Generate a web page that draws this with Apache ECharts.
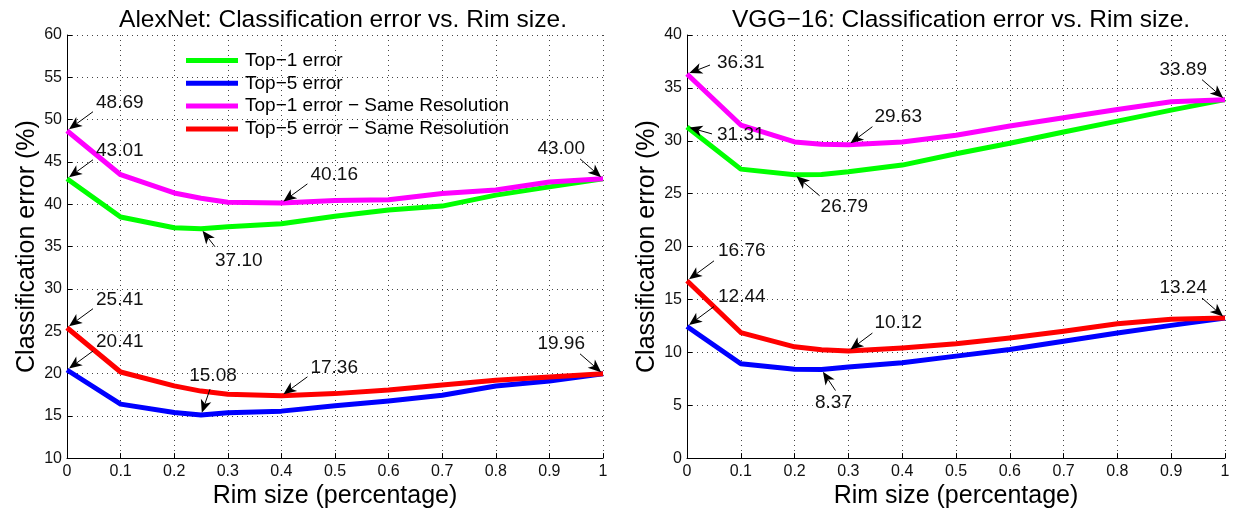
<!DOCTYPE html>
<html>
<head>
<meta charset="utf-8">
<script src="https://cdn.jsdelivr.net/npm/echarts@6/dist/echarts.min.js"></script>
<style>
  html, body { margin: 0; padding: 0; background: #fff; }
  #chart { width: 1238px; height: 514px; }
</style>
</head>
<body>
<div id="chart"></div>
<script>
// ---- data ----
const rimSizes = [0, 0.1, 0.2, 0.25, 0.3, 0.4, 0.5, 0.6, 0.7, 0.8, 0.9, 1];
const seriesNames = ['Top\u22121 error', 'Top\u22125 error',
  'Top\u22121 error \u2212 Same Resolution', 'Top\u22125 error \u2212 Same Resolution'];
const chartTitles = ['AlexNet: Classification error vs. Rim size.',
  'VGG\u221216: Classification error vs. Rim size.'];
const xAxisTitle = 'Rim size (percentage)';
const yAxisTitle = 'Classification error (%)';

// AlexNet
const alexTop1     = [43.01, 38.49, 37.23, 37.10, 37.33, 37.70, 38.58, 39.32, 39.78, 41.08, 42.05, 43.00];
const alexTop5     = [20.41, 16.38, 15.38, 15.08, 15.35, 15.55, 16.18, 16.75, 17.42, 18.52, 19.10, 19.96];
const alexTop1Same = [48.69, 43.49, 41.33, 40.71, 40.24, 40.16, 40.44, 40.52, 41.26, 41.68, 42.62, 43.00];
const alexTop5Same = [25.41, 20.17, 18.53, 17.92, 17.55, 17.36, 17.62, 18.05, 18.63, 19.20, 19.58, 19.96];

// VGG-16
const vggTop1      = [31.31, 27.32, 26.79, 26.82, 27.07, 27.70, 28.78, 29.77, 30.83, 31.86, 32.90, 33.89];
const vggTop5      = [12.44, 8.92, 8.40, 8.37, 8.61, 9.01, 9.64, 10.27, 11.05, 11.83, 12.55, 13.24];
const vggTop1Same  = [36.31, 31.49, 29.89, 29.67, 29.63, 29.89, 30.52, 31.39, 32.18, 32.96, 33.68, 33.89];
const vggTop5Same  = [16.76, 11.87, 10.52, 10.25, 10.12, 10.42, 10.82, 11.36, 11.99, 12.70, 13.12, 13.24];

// y-axis ranges: [min, max, step]
const alexYRange = [10, 60, 5];
const vggYRange  = [0, 40, 5];

// ---- callout layout: tail / text offsets in pixels from the marked point ----
const placements = {
  upRight:     { tail: [26, -19], text: [29, -28], align: 'left' },
  upRightWide: { tail: [27, -20], text: [31, -30], align: 'left' },
  upRightMin:  { tail: [24, -18], text: [26, -28], align: 'left' },
  upLeft:      { tail: [-23, -20], text: [-18, -30], align: 'right' },
  downRight:   { tail: [14, 18], text: [14, 32], align: 'left' },
  up:          { tail: [9, -26], text: [12, -39], align: 'center' },
  right:       { tail: [23, -9], text: [30, -11], align: 'left' },
  rightDown:   { tail: [25, 7], text: [30, 8], align: 'left' },
  downRight2:  { tail: [25, 21], text: [26, 32], align: 'left' },
  down:        { tail: [14, 21], text: [12, 33], align: 'center' }
};

const alexCallouts = [
  { values: alexTop1Same, at: 0, place: 'upRight' },
  { values: alexTop1, at: 0, place: 'upRight' },
  { values: alexTop1, at: 3, place: 'downRight' },
  { values: alexTop1Same, at: 5, place: 'upRight' },
  { values: alexTop1Same, at: 11, place: 'upLeft' },
  { values: alexTop5Same, at: 0, place: 'upRight' },
  { values: alexTop5, at: 0, place: 'upRight' },
  { values: alexTop5, at: 3, place: 'up' },
  { values: alexTop5Same, at: 5, place: 'upRight' },
  { values: alexTop5Same, at: 11, place: 'upLeft' }
];
const vggCallouts = [
  { values: vggTop1Same, at: 0, place: 'right' },
  { values: vggTop1, at: 0, place: 'rightDown' },
  { values: vggTop1, at: 2, place: 'downRight2' },
  { values: vggTop1Same, at: 4, place: 'upRightMin' },
  { values: vggTop1Same, at: 11, place: 'upLeft' },
  { values: vggTop5Same, at: 0, place: 'upRightWide' },
  { values: vggTop5, at: 0, place: 'upRightWide' },
  { values: vggTop5, at: 3, place: 'down' },
  { values: vggTop5Same, at: 4, place: 'upRightMin' },
  { values: vggTop5Same, at: 11, place: 'upLeft' }
];

// ---- styling ----
const FONT = '"Liberation Sans", Arial, Helvetica, sans-serif';
const lineColors = ['#00ff00', '#0000ff', '#ff00ff', '#ff0000'];
const grids = [
  { left: 67, top: 35, width: 536, height: 426 },
  { left: 687, top: 35, width: 538, height: 426 }
];

function pairs(values) {
  return values.map((v, i) => [rimSizes[i], v]);
}

function makeXAxis(gi) {
  return {
    type: 'value', gridIndex: gi, min: 0, max: 1, interval: 0.1,
    name: xAxisTitle, nameLocation: 'middle', nameGap: 20,
    nameTextStyle: { fontFamily: FONT, fontSize: 25, color: '#000' },
    axisLine: { show: true, onZero: false, lineStyle: { color: '#000', width: 1 } },
    axisTick: { show: true, inside: true, length: 5, lineStyle: { color: '#000' } },
    axisLabel: {
      margin: 5, fontFamily: FONT, fontSize: 16, color: '#111',
      formatter: v => String(Math.round(v * 10) / 10)
    },
    splitLine: { show: true, lineStyle: { color: '#444', width: 1, type: [1, 4] } }
  };
}

function makeYAxis(gi, range) {
  return {
    type: 'value', gridIndex: gi, min: range[0], max: range[1], interval: range[2],
    name: yAxisTitle, nameLocation: 'middle', nameGap: 27,
    nameTextStyle: { fontFamily: FONT, fontSize: 25, color: '#000' },
    axisLine: { show: true, onZero: false, lineStyle: { color: '#000', width: 1 } },
    axisTick: { show: true, inside: true, length: 5, lineStyle: { color: '#000' } },
    axisLabel: { margin: 5, fontFamily: FONT, fontSize: 16, color: '#111' },
    splitLine: { show: true, lineStyle: { color: '#444', width: 1, type: [1, 4] } }
  };
}

function lineSeries(name, values, gi, color) {
  return {
    name, type: 'line', xAxisIndex: gi, yAxisIndex: gi,
    data: pairs(values), showSymbol: false, symbol: 'none',
    lineStyle: { color, width: 5, join: 'round' }, itemStyle: { color },
    animation: false, z: 3
  };
}

// arrow + value text drawn at each callout point through the axis scale
function calloutSeries(callouts, gi) {
  return {
    type: 'custom', xAxisIndex: gi, yAxisIndex: gi, silent: true, z: 10,
    animation: false, clip: false,
    data: callouts.map(c => [rimSizes[c.at], c.values[c.at]]),
    renderItem: function (params, api) {
      const c = callouts[params.dataIndex];
      const pl = placements[c.place];
      const p = api.coord([api.value(0), api.value(1)]);
      const tx = p[0] + pl.tail[0], ty = p[1] + pl.tail[1];
      let dx = p[0] - tx, dy = p[1] - ty;
      const len = Math.sqrt(dx * dx + dy * dy);
      dx /= len; dy /= len;
      const tipX = p[0] - dx * 2.5, tipY = p[1] - dy * 2.5;
      const headL = 13, headW = 5.5, notch = 3.5;
      const bx = tipX - dx * headL, by = tipY - dy * headL;
      const nx = -dy, ny = dx;
      const mx = tipX - dx * (headL - notch), my = tipY - dy * (headL - notch);
      return {
        type: 'group',
        children: [
          { type: 'line', shape: { x1: tx, y1: ty, x2: mx, y2: my },
            style: { stroke: '#000', lineWidth: 1 } },
          { type: 'polygon', shape: { points: [[tipX, tipY], [bx + nx * headW, by + ny * headW],
              [mx, my], [bx - nx * headW, by - ny * headW]] },
            style: { fill: '#000' } },
          { type: 'text', style: {
              text: c.values[c.at].toFixed(2),
              x: p[0] + pl.text[0], y: p[1] + pl.text[1],
              align: pl.align, verticalAlign: 'middle',
              fontFamily: FONT, fontSize: 19, fill: '#111'
            } }
        ]
      };
    }
  };
}

const option = {
  backgroundColor: '#fff',
  animation: false,
  title: [
    { text: chartTitles[0], left: 338, top: 3, textAlign: 'center',
      textStyle: { fontFamily: FONT, fontSize: 24.5, fontWeight: 'normal', color: '#000' } },
    { text: chartTitles[1], left: 956, top: 3, textAlign: 'center',
      textStyle: { fontFamily: FONT, fontSize: 24.5, fontWeight: 'normal', color: '#000' } }
  ],
  legend: {
    data: seriesNames, orient: 'vertical', left: 181, top: 46,
    icon: 'rect', itemWidth: 52, itemHeight: 5, itemGap: 3.8,
    selectedMode: false,
    textStyle: { fontFamily: FONT, fontSize: 19, color: '#000', lineHeight: 18, padding: [0, 0, 0, 2] }
  },
  grid: grids,
  xAxis: [makeXAxis(0), makeXAxis(1)],
  yAxis: [makeYAxis(0, alexYRange), makeYAxis(1, vggYRange)],
  series: [
    lineSeries(seriesNames[0], alexTop1, 0, lineColors[0]),
    lineSeries(seriesNames[1], alexTop5, 0, lineColors[1]),
    lineSeries(seriesNames[2], alexTop1Same, 0, lineColors[2]),
    lineSeries(seriesNames[3], alexTop5Same, 0, lineColors[3]),
    lineSeries(seriesNames[0], vggTop1, 1, lineColors[0]),
    lineSeries(seriesNames[1], vggTop5, 1, lineColors[1]),
    lineSeries(seriesNames[2], vggTop1Same, 1, lineColors[2]),
    lineSeries(seriesNames[3], vggTop5Same, 1, lineColors[3]),
    calloutSeries(alexCallouts, 0),
    calloutSeries(vggCallouts, 1)
  ]
};

const chart = echarts.init(document.getElementById('chart'), null, { renderer: 'canvas' });
chart.setOption(option);
</script>
</body>
</html>
